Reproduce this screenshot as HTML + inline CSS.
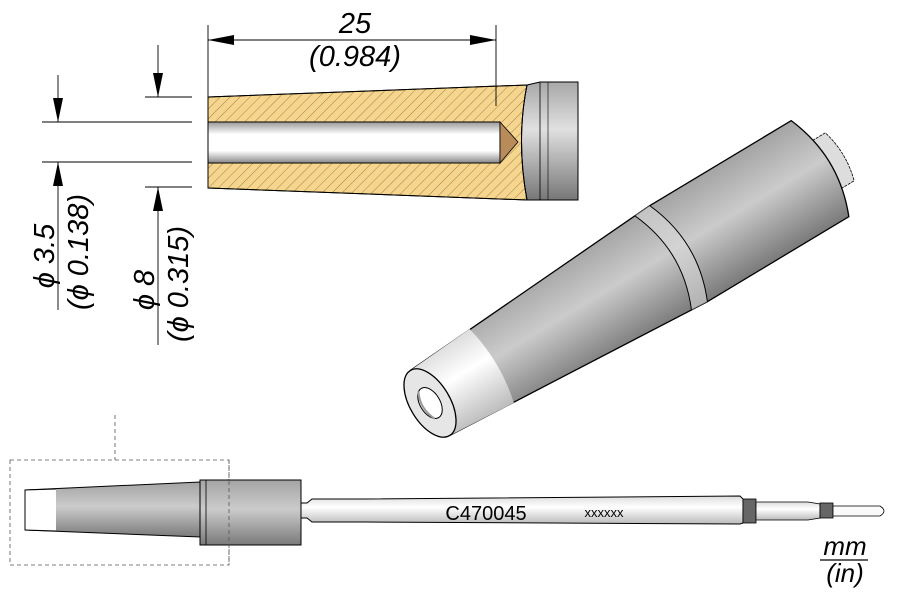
<!DOCTYPE html>
<html><head><meta charset="utf-8"><style>
html,body{margin:0;padding:0;background:#fff;}
svg{display:block;font-family:"Liberation Sans",sans-serif;}
</style></head><body>
<svg width="900" height="600" viewBox="0 0 900 600" xmlns="http://www.w3.org/2000/svg">
<defs>
<pattern id="hatch" width="7" height="7" patternUnits="userSpaceOnUse" patternTransform="rotate(45)">
<rect width="7" height="7" fill="#f6d68e"/><line x1="0" y1="0" x2="0" y2="7" stroke="#8a6a30" stroke-width="0.8"/>
</pattern>
<linearGradient id="gv" x1="0" y1="0" x2="0" y2="1">
<stop offset="0" stop-color="#a8a8a8"/><stop offset="0.4" stop-color="#e0e0e0"/><stop offset="1" stop-color="#777"/>
</linearGradient>
<linearGradient id="bore" x1="0" y1="0" x2="0" y2="1">
<stop offset="0" stop-color="#999"/><stop offset="0.3" stop-color="#fff"/><stop offset="0.7" stop-color="#fff"/><stop offset="1" stop-color="#888"/>
</linearGradient>
<linearGradient id="gl" x1="0" y1="0" x2="0" y2="1">
<stop offset="0" stop-color="#a4a4a4"/><stop offset="0.45" stop-color="#cbcbcb"/><stop offset="1" stop-color="#7a7a7a"/>
</linearGradient>
<linearGradient id="wl" x1="0" y1="0" x2="0" y2="1">
<stop offset="0" stop-color="#ddd"/><stop offset="0.4" stop-color="#fff"/><stop offset="1" stop-color="#bbb"/>
</linearGradient>
</defs>

<!-- Section view -->
<path d="M208,97 L527,85 Q516,140 527,200 L208,188 Z" fill="url(#hatch)" stroke="#000" stroke-width="1"/>
<path d="M527,85 L540,82 L578,82 L578,200 L540,200 L527,200 Q516,140 527,85 Z" fill="url(#gv)" stroke="#000" stroke-width="1"/>
<line x1="540" y1="82" x2="540" y2="200" stroke="#000" stroke-width="0.8"/>
<line x1="548" y1="82" x2="548" y2="200" stroke="#000" stroke-width="0.6"/>
<path d="M208,97 L527,85 Q516,140 527,200 L208,188 Z" fill="none" stroke="#000" stroke-width="1"/>
<rect x="208" y="122" width="292" height="41" fill="url(#bore)" stroke="#000" stroke-width="1"/>
<path d="M500,122 L518,142 L500,163 Z" fill="#b98a5a" stroke="#000" stroke-width="0.8"/>

<!-- dim 25 -->
<g stroke="#000" stroke-width="0.9">
<line x1="208" y1="25" x2="208" y2="97"/>
<line x1="496" y1="25" x2="496" y2="106"/>
<line x1="208" y1="40" x2="496" y2="40"/>
</g>
<path d="M208,40 L234,35 L234,45 Z M496,40 L470,35 L470,45 Z" fill="#000"/>
<text x="355" y="33" font-size="29" font-style="italic" text-anchor="middle">25</text>
<text x="355" y="66" font-size="29" font-style="italic" text-anchor="middle">(0.984)</text>

<!-- left dims -->
<g stroke="#000" stroke-width="0.9">
<line x1="145" y1="97" x2="192" y2="97"/>
<line x1="42" y1="122" x2="192" y2="122"/>
<line x1="42" y1="162" x2="192" y2="162"/>
<line x1="145" y1="187" x2="192" y2="187"/>
<line x1="58" y1="75" x2="58" y2="122"/>
<line x1="58" y1="310" x2="58" y2="162"/>
<line x1="158" y1="45" x2="158" y2="97"/>
<line x1="158" y1="345" x2="158" y2="187"/>
</g>
<path d="M58,122 L53,98 L63,98 Z M58,162 L53,186 L63,186 Z M158,97 L153,73 L163,73 Z M158,187 L153,211 L163,211 Z" fill="#000"/>
<text transform="translate(54,256) rotate(-90)" font-size="29" font-style="italic" text-anchor="middle">ϕ 3.5</text>
<text transform="translate(88,252) rotate(-90)" font-size="29" font-style="italic" text-anchor="middle">(ϕ 0.138)</text>
<text transform="translate(154,290) rotate(-90)" font-size="29" font-style="italic" text-anchor="middle">ϕ 8</text>
<text transform="translate(188,284) rotate(-90)" font-size="29" font-style="italic" text-anchor="middle">(ϕ  0.315)</text>

<!-- 3D view -->
<g transform="translate(430,403) rotate(-31)">
<path d="M455,-28 L478,-28 Q486,0 478,28 L455,28 Z" fill="#ddd" stroke="#000" stroke-width="0.8" stroke-dasharray="3,1"/>
<path d="M0,-38 L290,-56 L455,-56 Q478,0 455,56 L290,56 L0,38 Z" fill="url(#gl)" stroke="#000" stroke-width="1.3"/>
<path d="M0,-38 L72,-43 Q82,0 72,43 L0,38 Z" fill="url(#wl)"/>
<path d="M272,-55 L290,-56 Q314,0 290,56 L272,55 Q296,0 272,-55 Z" fill="#d8d8d8" opacity="0.6"/>
<path d="M272,-55 Q296,0 272,55 M290,-56 Q314,0 290,56" fill="none" stroke="#000" stroke-width="1"/>
<ellipse cx="0" cy="0" rx="20" ry="38" fill="#e6e6e6" stroke="#000" stroke-width="1.3"/>
<ellipse cx="0" cy="0" rx="10" ry="17" fill="#fff" stroke="#000" stroke-width="1"/>
<path d="M-4,-16 Q-12,0 -4,16" fill="none" stroke="#999" stroke-width="2"/>
</g>

<!-- bottom side view -->
<rect x="10" y="460" width="219" height="105" fill="none" stroke="#555" stroke-width="0.8" stroke-dasharray="4,3"/>
<line x1="115" y1="415" x2="115" y2="460" stroke="#555" stroke-width="0.8" stroke-dasharray="4,3"/>
<path d="M25,490 L200,482 L200,537 L25,530 Z" fill="url(#gl)" stroke="#000" stroke-width="1"/>
<path d="M25,490 L56,489 L56,531 L25,530 Z" fill="#fff"/>
<path d="M25,490 L56,489 M25,530 L56,531" stroke="#000"/>
<line x1="25" y1="490" x2="25" y2="530" stroke="#000"/>
<rect x="200" y="480" width="101" height="65" fill="url(#gl)" stroke="#000" stroke-width="1"/>
<line x1="206" y1="480" x2="206" y2="545" stroke="#000" stroke-width="0.8"/>
<line x1="229" y1="460" x2="229" y2="565" stroke="#555" stroke-width="0.8" stroke-dasharray="4,3"/>
<path d="M301,503 L307,503 L312,499 L365,499 L740,496 L743,499 L743,523 L740,524 L365,522 L312,522 L307,518 L301,518 Z" fill="url(#wl)" stroke="#000" stroke-width="1"/>
<rect x="743" y="499" width="13" height="24" fill="#666" stroke="#000" stroke-width="0.8"/>
<path d="M756,502 L808,502 L820,504 L820,518 L808,520 L756,520 Z" fill="url(#wl)" stroke="#000" stroke-width="0.8"/>
<rect x="820" y="503" width="13" height="15" fill="#666" stroke="#000" stroke-width="0.8"/>
<path d="M833,506 L880,506 Q888,511 880,516 L833,516 Z" fill="#fafafa" stroke="#000" stroke-width="0.8"/>
<text x="486" y="520" font-size="20" text-anchor="middle">C470045</text>
<text x="604" y="517" font-size="13" text-anchor="middle">xxxxxx</text>
<text x="845" y="555" font-size="26" font-style="italic" text-anchor="middle">mm</text>
<line x1="820" y1="560" x2="868" y2="560" stroke="#000" stroke-width="1.2"/>
<text x="845" y="582" font-size="26" font-style="italic" text-anchor="middle">(in)</text>
</svg>
</body></html>
